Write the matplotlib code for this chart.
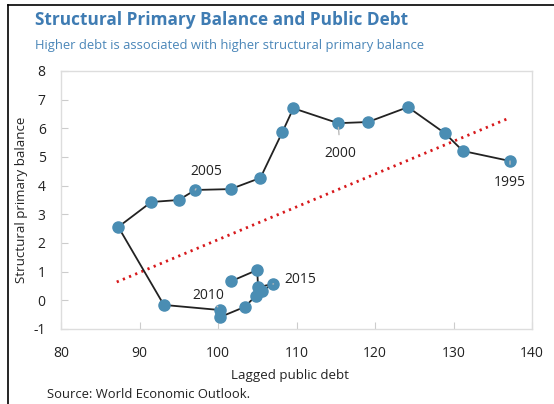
import matplotlib
matplotlib.use("Agg")
import matplotlib.pyplot as plt
from matplotlib.lines import Line2D

plt.rcParams['font.family'] = ['Open Sans', 'DejaVu Sans']
plt.rcParams['axes.unicode_minus'] = False

years = list(range(1995, 2019))
debt = [137.2, 131.2, 128.9, 124.2, 119.1, 115.3, 109.6, 108.2, 105.4, 101.6,
        97.1, 95.0, 91.5, 87.3, 93.1, 100.3, 100.3, 103.4, 104.8, 105.6,
        107.0, 105.1, 105.0, 101.7]
balance = [4.86, 5.21, 5.83, 6.74, 6.22, 6.18, 6.70, 5.87, 4.27, 3.88,
           3.85, 3.50, 3.43, 2.56, -0.16, -0.34, -0.58, -0.23, 0.15, 0.32,
           0.57, 0.46, 1.06, 0.67]
trend_x = [87.1, 137.1]
trend_y = [0.64, 6.36]
labelled = {1995: (137.2, 4.10), 2000: (115.6, 5.13), 2005: (98.5, 4.50),
            2010: (98.8, 0.16), 2015: (110.5, 0.74)}
x_ticks = [80, 90, 100, 110, 120, 130, 140]
y_ticks = [-1, 0, 1, 2, 3, 4, 5, 6, 7, 8]

W, H = 554, 404
fig = plt.figure(figsize=(W / 100, H / 100), dpi=100)
ax = fig.add_axes([61 / W, 1 - 329 / H, (532 - 61) / W, (329 - 71) / H])

ax.plot(trend_x, trend_y, color='#d7191c', lw=2.0, linestyle=(0, (0.8, 1.6)),
        zorder=1)
ax.plot(debt, balance, color='#222222', lw=1.3, zorder=2)
ax.plot(debt, balance, linestyle='none', marker='o', markersize=8.0,
        color='#4a8db3', markeredgecolor='#4a8db3', zorder=3)

for yr, (tx, ty) in labelled.items():
    i = years.index(yr)
    px, py = debt[i], balance[i]
    ax.annotate(str(yr), xy=(px, py), xytext=(tx, ty), ha='center', va='center',
                fontsize=10, color='#222222', zorder=4,
                arrowprops=dict(arrowstyle='-', color='#bbbbbb', lw=1.0,
                                shrinkA=6, shrinkB=3))

ax.set_xlim(80, 140)
ax.set_ylim(-1, 8)
ax.set_xticks(x_ticks)
ax.set_yticks(y_ticks)
ax.tick_params(direction='in', length=5, color='#cccccc', labelsize=10,
               labelcolor='#222222')
ax.tick_params(axis='x', pad=12)
ax.tick_params(axis='y', pad=11)
for s in ax.spines.values():
    s.set_color('#dddddd')
    s.set_linewidth(1.0)
ax.set_xlabel('Lagged public debt', fontsize=9.6, color='#222222')
ax.set_ylabel('Structural primary balance', fontsize=9.6, color='#222222')
ax.xaxis.set_label_coords((290 - 61) / 471, (329 - 375) / 258)
ax.xaxis.label.set_va('center')
ax.yaxis.set_label_coords((22 - 61) / 471, (329 - 200) / 258)
ax.yaxis.label.set_va('center')

fig.text(35 / W, 1 - 20 / H, 'Structural Primary Balance and Public Debt',
         fontsize=12.4, fontweight='bold', color='#3f7cb3', va='center', ha='left')
fig.text(35 / W, 1 - 45 / H,
         'Higher debt is associated with higher structural primary balance',
         fontsize=9.4, color='#4a86b8', va='center', ha='left')
fig.text(47 / W, 1 - 395 / H, 'Source: World Economic Outlook.', fontsize=9.4,
         color='#222222', va='center', ha='left')

fig.add_artist(Line2D([8 / W, 8 / W], [0, 1 - 5 / H], transform=fig.transFigure,
                      color='black', lw=1.2))
fig.add_artist(Line2D([8 / W, 1], [1 - 5 / H, 1 - 5 / H], transform=fig.transFigure,
                      color='black', lw=1.2))

fig.savefig('out.png', dpi=100)
